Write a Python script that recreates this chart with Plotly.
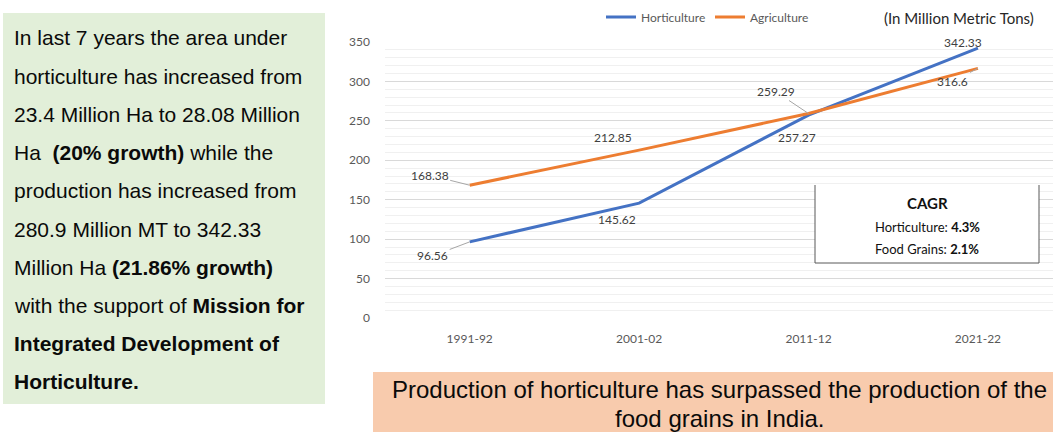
import plotly.graph_objects as go

# Production (million metric tons)
years = ["1991-92", "2001-02", "2011-12", "2021-22"]
horticulture = [96.56, 145.62, 257.27, 342.33]
agriculture = [168.38, 212.85, 259.29, 316.6]
y_ticks = [0, 50, 100, 150, 200, 250, 300, 350]

W, H = 1053, 432
L, R, T, B = 385, 0, 42, 114
PW = W - L - R
PH = H - T - B


def px(x):
    return (x - L) / PW


def py(y):
    return (H - B - y) / PH


BLUE = "#4472C4"
ORANGE = "#ED7D31"
TICK = "#595959"
LABEL = "#404040"

fig = go.Figure()
fig.add_trace(go.Scatter(x=years, y=horticulture, name="Horticulture", mode="lines",
                         line=dict(color=BLUE, width=3), cliponaxis=False))
fig.add_trace(go.Scatter(x=years, y=agriculture, name="Agriculture", mode="lines",
                         line=dict(color=ORANGE, width=3), cliponaxis=False))

fig.update_layout(
    width=W, height=H,
    margin=dict(l=L, r=R, t=T, b=B, pad=0),
    paper_bgcolor="white", plot_bgcolor="white",
    font=dict(family="Lato", size=12, color=TICK),
    showlegend=True,
    legend=dict(orientation="h", x=px(601), y=py(17), xanchor="left", yanchor="middle",
                font=dict(size=12, color=TICK), bgcolor="rgba(0,0,0,0)",
                itemwidth=30, tracegroupgap=0, entrywidth=64, entrywidthmode="pixels"),
    xaxis=dict(type="category", range=[-0.5, 3.443], showgrid=False, zeroline=False,
               showline=False, ticks="", tickfont=dict(size=12, color=TICK),
               ticklabelstandoff=12),
    yaxis=dict(range=[0, 350], tickvals=y_ticks, showgrid=True, gridcolor="#D9D9D9",
               gridwidth=1, zeroline=False, showline=False, ticks="",
               tickfont=dict(size=12, color=TICK), ticklabelstandoff=14,
               minor=dict(dtick=10, showgrid=True, gridcolor="#F0F0F0", gridwidth=1)),
)

shapes = []
# left summary panel
shapes.append(dict(type="rect", xref="paper", yref="paper", layer="below",
                   x0=px(3), x1=px(325), y0=py(404), y1=py(13),
                   fillcolor="#E2EFD9", line=dict(width=0)))
# bottom banner
shapes.append(dict(type="rect", xref="paper", yref="paper", layer="above",
                   x0=px(373), x1=px(1060), y0=py(440), y1=py(372),
                   fillcolor="#F8CBAD", line=dict(width=0)))
# CAGR box
shapes.append(dict(type="rect", xref="paper", yref="paper", layer="above",
                   x0=px(815), x1=px(1039), y0=py(263), y1=py(185),
                   fillcolor="white", line=dict(width=0)))
shapes.append(dict(type="path", xref="paper", yref="paper", layer="above",
                   path=f"M {px(815)} {py(185)} L {px(815)} {py(263)} L {px(1039)} {py(263)} L {px(1039)} {py(185)}",
                   line=dict(color="#595959", width=1)))
fig.update_layout(shapes=shapes)

ann = []

# left panel text
left_lines = [
    "In last 7 years the area under",
    "horticulture has increased from",
    "23.4 Million Ha to 28.08 Million",
    "Ha\u00a0 <b>(20% growth)</b> while the",
    "production has increased from",
    "280.9 Million MT to 342.33",
    "Million Ha <b>(21.86% growth)</b>",
    "with the support of <b>Mission for</b>",
    "<b>Integrated Development of</b>",
    "<b>Horticulture.</b>",
]
for i, t in enumerate(left_lines):
    ann.append(dict(xref="paper", yref="paper", x=px(12), y=py(38 + i * 38.2),
                    xanchor="left", yanchor="middle", text=t, showarrow=False,
                    font=dict(family="Liberation Sans", size=21, color="#0a0a0a")))

# banner text
for t, yy in [("Production of horticulture has surpassed the production of the", 389),
              ("food grains in India.", 418)]:
    ann.append(dict(xref="paper", yref="paper", x=px(719), y=py(yy), xanchor="center",
                    yanchor="middle", text=t, showarrow=False,
                    font=dict(family="Liberation Sans", size=24, color="#0a0a0a")))

# unit note
ann.append(dict(xref="paper", yref="paper", x=px(959), y=py(18), xanchor="center",
                yanchor="middle", text="(In Million Metric Tons)", showarrow=False,
                font=dict(family="Lato", size=15, color="#262626")))

# CAGR text
ann.append(dict(xref="paper", yref="paper", x=px(927), y=py(203), xanchor="center",
                yanchor="middle", text="<b>CAGR</b>", showarrow=False,
                font=dict(family="Lato", size=15, color="#111111")))
ann.append(dict(xref="paper", yref="paper", x=px(927), y=py(227), xanchor="center",
                yanchor="middle", text="Horticulture: <b>4.3%</b>", showarrow=False,
                font=dict(family="Lato", size=13, color="#111111")))
ann.append(dict(xref="paper", yref="paper", x=px(927), y=py(249), xanchor="center",
                yanchor="middle", text="Food Grains: <b>2.1%</b>", showarrow=False,
                font=dict(family="Lato", size=13, color="#111111")))

# data labels
lab_font = dict(family="Lato", size=12, color=LABEL)
plain = [
    (years[1], agriculture[1], -26, 13),
    (years[1], horticulture[1], -22, -16),
    (years[2], horticulture[2], -12, -22),
    (years[3], horticulture[3], -15, 6),
]
for x, y, dx, dy in plain:
    ann.append(dict(x=x, y=y, xref="x", yref="y", text=f"{y:g}", showarrow=False,
                    xshift=dx, yshift=dy, font=lab_font))
leader = [
    (years[0], agriculture[0], -40, -10),
    (years[0], horticulture[0], -37, 14),
    (years[2], agriculture[2], -33, -22),
    (years[3], agriculture[3], -25, 13),
]
for x, y, dx, dy in leader:
    ann.append(dict(x=x, y=y, xref="x", yref="y", text=f"{y:g}", showarrow=True,
                    arrowhead=0, arrowwidth=1, arrowcolor="#A6A6A6", ax=dx, ay=dy,
                    standoff=0, font=lab_font))

fig.update_layout(annotations=ann)
fig.write_html("out.html")
